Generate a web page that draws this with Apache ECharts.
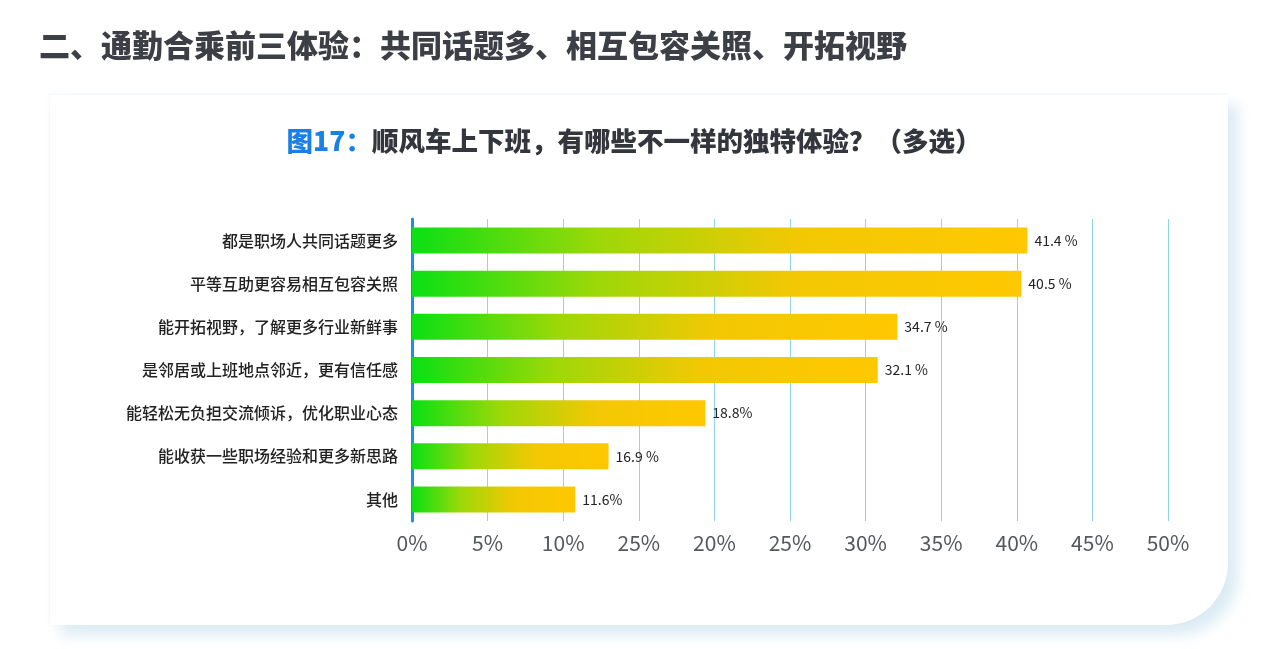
<!DOCTYPE html>
<html>
<head>
<meta charset="utf-8">
<script src="https://cdn.jsdelivr.net/npm/echarts@6/dist/echarts.min.js"></script>
<style>
    html, body { margin: 0; padding: 0; background: #fff; }
    #card {
        position: absolute; left: 50px; top: 95px; width: 1178px; height: 530px;
        background: #fff;
        border-bottom-right-radius: 62px;
        box-shadow: 10px 10px 14px rgba(190, 218, 234, 0.55), -1px -1px 3px rgba(235, 240, 245, 0.6);
    }
    #chart { position: absolute; left: 0; top: 0; width: 1268px; height: 649px; }
</style>
</head>
<body>
<div id="card"></div>
<div id="chart"></div>
<script>
// categories, top to bottom (escaped so the page encoding cannot mangle them)
const categories = [
    '\u90fd\u662f\u804c\u573a\u4eba\u5171\u540c\u8bdd\u9898\u66f4\u591a',
    '\u5e73\u7b49\u4e92\u52a9\u66f4\u5bb9\u6613\u76f8\u4e92\u5305\u5bb9\u5173\u7167',
    '\u80fd\u5f00\u62d3\u89c6\u91ce\uff0c\u4e86\u89e3\u66f4\u591a\u884c\u4e1a\u65b0\u9c9c\u4e8b',
    '\u662f\u90bb\u5c45\u6216\u4e0a\u73ed\u5730\u70b9\u90bb\u8fd1\uff0c\u66f4\u6709\u4fe1\u4efb\u611f',
    '\u80fd\u8f7b\u677e\u65e0\u8d1f\u62c5\u4ea4\u6d41\u503e\u8bc9\uff0c\u4f18\u5316\u804c\u4e1a\u5fc3\u6001',
    '\u80fd\u6536\u83b7\u4e00\u4e9b\u804c\u573a\u7ecf\u9a8c\u548c\u66f4\u591a\u65b0\u601d\u8def',
    '\u5176\u4ed6'
];
// bar lengths as drawn in the picture
const barValues = [40.7, 40.3, 32.1, 30.8, 19.4, 13.0, 10.8];
// label text printed at the end of each bar
const barLabels = ['41.4 %', '40.5 %', '34.7 %', '32.1 %', '18.8%', '16.9 %', '11.6%'];
// x tick labels (the original prints 25% at the 15% tick)
const tickLabels = ['0%', '5%', '10%', '25%', '20%', '25%', '30%', '35%', '40%', '45%', '50%'];

const pageTitle = '\u4e8c\u3001\u901a\u52e4\u5408\u4e58\u524d\u4e09\u4f53\u9a8c\uff1a\u5171\u540c\u8bdd\u9898\u591a\u3001\u76f8\u4e92\u5305\u5bb9\u5173\u7167\u3001\u5f00\u62d3\u89c6\u91ce';
const figNo = '\u56fe17\uff1a';
const figTitle = '\u987a\u98ce\u8f66\u4e0a\u4e0b\u73ed\uff0c\u6709\u54ea\u4e9b\u4e0d\u4e00\u6837\u7684\u72ec\u7279\u4f53\u9a8c\uff1f\uff08\u591a\u9009\uff09';

const chart = echarts.init(document.getElementById('chart'), null, { renderer: 'canvas' });

const barGradient = new echarts.graphic.LinearGradient(0, 0, 1, 0, [
    { offset: 0, color: '#0ae014' },
    { offset: 0.3, color: '#9cd808' },
    { offset: 0.62, color: '#f2c804' },
    { offset: 1, color: '#ffc800' }
]);

const option = {
    backgroundColor: 'transparent',
    title: [
        {
            text: pageTitle,
            left: 34,
            top: 25,
            textStyle: {
                fontFamily: 'Noto Sans CJK SC',
                fontSize: 31,
                fontWeight: 900,
                color: '#3c3f45'
            }
        },
        {
            text: '{b|' + figNo + '}{d|' + figTitle + '}',
            left: 'center',
            top: 123,
            textStyle: {
                rich: {
                    b: {
                        fontFamily: 'Noto Sans CJK SC',
                        fontSize: 26.5,
                        fontWeight: 900,
                        color: '#1a7fe6'
                    },
                    d: {
                        fontFamily: 'Noto Sans CJK SC',
                        fontSize: 26.5,
                        fontWeight: 900,
                        color: '#33363c'
                    }
                }
            }
        }
    ],
    grid: {
        left: 412,
        right: 100,
        top: 219,
        bottom: 128,
        containLabel: false,
        outerBoundsMode: 'none'
    },
    xAxis: {
        type: 'value',
        min: 0,
        max: 50,
        interval: 5,
        axisLine: { show: false },
        axisTick: { show: false },
        splitLine: {
            show: true,
            lineStyle: { color: '#8fd6ea', width: 1 }
        },
        axisLabel: {
            margin: 12,
            fontFamily: 'Noto Sans CJK SC',
            fontSize: 21,
            color: '#55585e',
            formatter: function(value) {
                return tickLabels[Math.round(value / 5)];
            }
        }
    },
    yAxis: {
        type: 'category',
        data: categories,
        inverse: true,
        axisTick: { show: false },
        axisLine: {
            show: true,
            lineStyle: { color: '#1e8fe6', width: 3 }
        },
        axisLabel: {
            margin: 14,
            fontFamily: 'Noto Sans CJK SC',
            fontSize: 16,
            color: '#222',
            fontWeight: 500
        }
    },
    series: [{
        type: 'bar',
        data: barValues,
        barWidth: 26,
        z: 1,
        itemStyle: { color: barGradient },
        label: {
            show: true,
            position: 'right',
            distance: 7,
            fontFamily: 'Noto Sans CJK SC',
            fontSize: 14,
            color: '#222',
            formatter: function(p) {
                return barLabels[p.dataIndex];
            }
        }
    }]
};

chart.setOption(option);
</script>
</body>
</html>
